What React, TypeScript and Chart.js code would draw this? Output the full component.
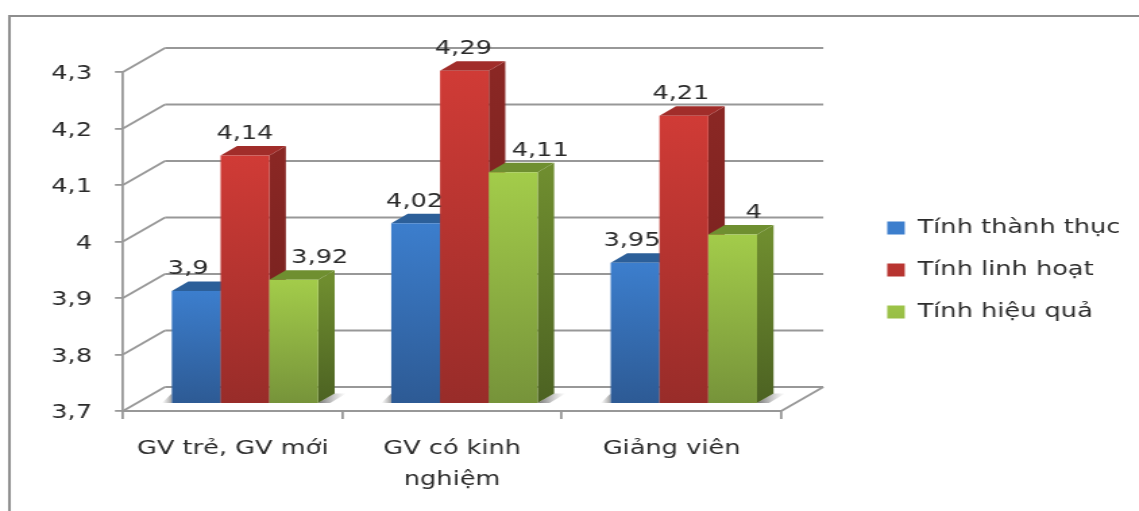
import React, { useEffect, useRef } from "react";
import { Chart, registerables } from "chart.js";

Chart.register(...registerables);

const categories = [["GV trẻ, GV mới"], ["GV có kinh", "nghiệm"], ["Giảng viên"]];
const seriesNames = ["Tính thành thục", "Tính linh hoạt", "Tính hiệu quả"];
const thanhThuc = [3.9, 4.02, 3.95];
const linhHoat = [4.14, 4.29, 4.21];
const hieuQua = [3.92, 4.11, 4];
const seriesValues = [thanhThuc, linhHoat, hieuQua];
const axisFloor = 3.7;
const axisCeiling = 4.3;

// Drawing surface is laid out narrow and widened by CSS, which gives the wide letterforms.
const LOGICAL_W = 844;
const LOGICAL_H = 511;
const STRETCH = 1139 / LOGICAL_W;
const px = (v: number) => v / STRETCH;

const FONT = "'DejaVu Sans', sans-serif";
const INK = "#2b2b2b";
const LINE = "#989898";

const BAR_SHIFT = { x: px(12.3), y: -7 };
const BAR_DEPTH = { x: px(16.5), y: -9.5 };
const WALL = { x: px(42), y: -24 };

const palette = [
  { hi: "#3c7ecd", lo: "#2d5a94", top: "#2c5f99", sideHi: "#2c5f99", sideLo: "#234a78", flat: "#3569ab" },
  { hi: "#d03b36", lo: "#982c29", top: "#a12d2a", sideHi: "#8a2724", sideLo: "#6f1f1d", flat: "#b93431" },
  { hi: "#a3cc4a", lo: "#76933a", top: "#6f8f30", sideHi: "#6f8d2f", sideLo: "#4c6222", flat: "#8cb040" },
];

// Horizontal nudges of the value labels, per series and category.
const labelNudge = [
  [-8, -1, -3],
  [0, -1, -3],
  [26, 27, 21],
];

const comma = (v: number) => String(Number(v.toFixed(2))).replace(".", ",");

const polygon = (ctx: CanvasRenderingContext2D, pts: number[][], fill: any) => {
  ctx.beginPath();
  pts.forEach(([x, y], i) => (i ? ctx.lineTo(x, y) : ctx.moveTo(x, y)));
  ctx.closePath();
  ctx.fillStyle = fill;
  ctx.fill();
};

const segment = (ctx: CanvasRenderingContext2D, x0: number, y0: number, x1: number, y1: number) => {
  ctx.beginPath();
  ctx.moveTo(x0, y0);
  ctx.lineTo(x1, y1);
  ctx.stroke();
};

const box3d = {
  id: "box3d",
  beforeDraw(chart: any) {
    // Outer frame: left and top edges run to the border of the page.
    const { ctx } = chart;
    ctx.save();
    ctx.strokeStyle = "#8e8e8e";
    ctx.lineWidth = 2;
    ctx.beginPath();
    ctx.moveTo(px(9.5), LOGICAL_H);
    ctx.lineTo(px(9.5), 16);
    ctx.lineTo(LOGICAL_W, 16);
    ctx.stroke();
    ctx.restore();
  },
  beforeDatasetsDraw(chart: any) {
    const { ctx, scales } = chart;
    const { x: xs, y: ys } = scales;
    const left = xs.left;
    const right = xs.right;
    const floor = ys.bottom;

    // Side wall, back wall and floor, following the value axis ticks.
    ctx.save();
    ctx.strokeStyle = LINE;
    ctx.lineWidth = 1.8;
    ys.ticks.forEach((t: any) => {
      const y = ys.getPixelForValue(t.value);
      segment(ctx, left, y, left + WALL.x, y + WALL.y);
      segment(ctx, left + WALL.x, y + WALL.y, right + WALL.x, y + WALL.y);
    });
    segment(ctx, right, floor, right + WALL.x, floor + WALL.y);
    ctx.restore();

    // Soft shadow on the floor at both ends of each cluster.
    const firstBars = chart.getDatasetMeta(0).data;
    const lastBars = chart.getDatasetMeta(seriesValues.length - 1).data;
    ctx.save();
    ctx.translate(BAR_SHIFT.x, BAR_SHIFT.y);
    firstBars.forEach((b0: any, i: number) => {
      const b1 = lastBars[i];
      const xr = b1.x + b1.width / 2;
      const gr = ctx.createLinearGradient(xr, 0, xr + px(28), 0);
      gr.addColorStop(0, "rgba(70,70,70,0.75)");
      gr.addColorStop(1, "rgba(120,120,120,0)");
      polygon(ctx, [[xr, b1.base], [xr + BAR_DEPTH.x, b1.base + BAR_DEPTH.y], [xr + px(28), b1.base + BAR_DEPTH.y], [xr + px(12), b1.base]], gr);
      const xl = b0.x - b0.width / 2;
      const gl = ctx.createLinearGradient(xl, 0, xl - px(10), 0);
      gl.addColorStop(0, "rgba(80,80,80,0.55)");
      gl.addColorStop(1, "rgba(120,120,120,0)");
      polygon(ctx, [[xl, b0.base], [xl, b0.base + BAR_DEPTH.y], [xl - px(10), b0.base]], gl);
    });
    ctx.restore();

    // Each series in turn: depth faces first, then the library's own front rectangles.
    seriesValues.forEach((_, s) => {
      const meta = chart.getDatasetMeta(s);
      const c = palette[s];
      ctx.save();
      ctx.translate(BAR_SHIFT.x, BAR_SHIFT.y);
      meta.data.forEach((bar: any) => {
        const x0 = bar.x - bar.width / 2;
        const x1 = bar.x + bar.width / 2;
        const yt = bar.y;
        const yb = bar.base;
        const side = ctx.createLinearGradient(0, yt, 0, yb);
        side.addColorStop(0, c.sideHi);
        side.addColorStop(1, c.sideLo);
        polygon(ctx, [[x1, yt], [x1, yb], [x1 + BAR_DEPTH.x, yb + BAR_DEPTH.y], [x1 + BAR_DEPTH.x, yt + BAR_DEPTH.y]], side);
        polygon(ctx, [[x0, yt], [x1, yt], [x1 + BAR_DEPTH.x, yt + BAR_DEPTH.y], [x0 + BAR_DEPTH.x, yt + BAR_DEPTH.y]], c.top);
      });
      meta.controller.draw();
      ctx.restore();
    });
    return false;
  },
  afterDraw(chart: any) {
    // Value labels above the bars.
    const { ctx } = chart;
    ctx.save();
    ctx.font = `19px ${FONT}`;
    ctx.fillStyle = INK;
    ctx.textAlign = "center";
    ctx.textBaseline = "middle";
    seriesValues.forEach((values, s) => {
      chart.getDatasetMeta(s).data.forEach((bar: any, i: number) => {
        ctx.fillText(comma(values[i]), bar.x + BAR_SHIFT.x + px(labelNudge[s][i]), bar.y + BAR_SHIFT.y - 21.5);
      });
    });
    ctx.restore();
  },
};

export default function App() {
  const ref = useRef<HTMLCanvasElement>(null);

  useEffect(() => {
    const chart = new Chart(ref.current as HTMLCanvasElement, {
      type: "bar",
      plugins: [box3d],
      data: {
        labels: categories,
        datasets: seriesNames.map((label, s) => ({
          label,
          data: seriesValues[s],
          base: axisFloor,
          yAxisID: "y",
          categoryPercentage: 0.667,
          barPercentage: 1,
          borderWidth: 0,
          backgroundColor: (c: any) => {
            const p = palette[s];
            const ys = c.chart.scales.y;
            if (c.dataIndex === undefined || !ys) return p.flat;
            const top = ys.getPixelForValue(seriesValues[s][c.dataIndex]);
            if (!Number.isFinite(top) || !Number.isFinite(ys.bottom)) return p.flat;
            const g = c.chart.ctx.createLinearGradient(0, top, 0, ys.bottom);
            g.addColorStop(0, p.hi);
            g.addColorStop(1, p.lo);
            return g;
          },
        })),
      },
      options: {
        animation: false,
        responsive: false,
        devicePixelRatio: 1,
        layout: { padding: { top: 42, bottom: 13, left: 0, right: 3.8 } },
        scales: {
          x: {
            grid: { display: true, drawOnChartArea: false, drawTicks: true, tickLength: 8, color: LINE, lineWidth: 1.8, offset: true },
            border: { display: true, color: LINE, width: 2 },
            ticks: { color: INK, maxRotation: 0, padding: 15, font: { family: FONT, size: 19, lineHeight: 1.6 } },
            afterFit: (s: any) => {
              s.height = 87;
            },
          },
          y: {
            min: axisFloor,
            max: axisCeiling,
            grid: { display: true, drawOnChartArea: false, drawTicks: true, tickLength: px(8), color: LINE, lineWidth: 1.8 },
            border: { display: true, color: LINE, width: 1.8 },
            ticks: { stepSize: 0.1, color: INK, padding: 17, labelOffset: 2.5, font: { family: FONT, size: 19 }, callback: (v: any) => comma(Number(v)) },
            afterFit: (s: any) => {
              s.width = px(123);
            },
          },
          // Empty spacers that keep the plot clear of the legend and the top edge.
          gap: {
            type: "linear",
            position: "right",
            display: true,
            grid: { display: false },
            border: { display: false },
            ticks: { display: false },
            afterFit: (s: any) => {
              s.width = 55.5;
            },
          },
          gapTop: {
            type: "linear",
            position: "top",
            display: true,
            grid: { display: false },
            border: { display: false },
            ticks: { display: false },
            afterFit: (s: any) => {
              s.height = 30;
            },
          },
        },
        plugins: {
          tooltip: { enabled: false },
          legend: {
            display: true,
            position: "right",
            maxWidth: 300,
            labels: { boxWidth: 13, boxHeight: 13, padding: 23, color: INK, font: { family: FONT, size: 19 } },
          },
        },
      },
    } as any);
    return () => chart.destroy();
  }, []);

  return (
    <canvas
      ref={ref}
      width={LOGICAL_W}
      height={LOGICAL_H}
      style={{ position: "absolute", left: 0, top: 0, transform: `scaleX(${STRETCH})`, transformOrigin: "0 0", background: "#fff" }}
    />
  );
}
